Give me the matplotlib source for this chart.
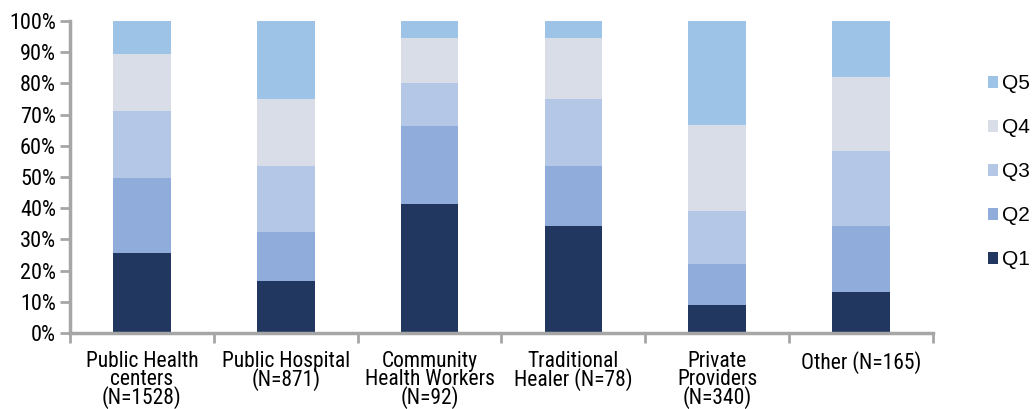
import matplotlib
matplotlib.use("Agg")
import matplotlib.pyplot as plt
import numpy as np
from matplotlib.ticker import FixedLocator, PercentFormatter

categories = [
    "Public Health\ncenters\n(N=1528)",
    "Public Hospital\n(N=871)",
    "Community\nHealth Workers\n(N=92)",
    "Traditional\nHealer (N=78)",
    "Private\nProviders\n(N=340)",
    "Other (N=165)",
]
quintiles = ["Q1", "Q2", "Q3", "Q4", "Q5"]
q1 = [25.6, 16.7, 41.3, 34.3, 9.0, 13.1]
q2 = [24.1, 15.7, 25.0, 19.2, 13.1, 21.2]
q3 = [21.5, 21.1, 13.8, 21.5, 17.0, 24.0]
q4 = [18.2, 21.5, 14.5, 19.6, 27.6, 23.8]
q5 = [10.6, 25.0, 5.4, 5.4, 33.3, 17.9]
colors = ["#22375f", "#8facda", "#b4c7e7", "#d9dde7", "#9dc3e6"]

plt.rcParams["font.family"] = ["Roboto Condensed", "DejaVu Sans"]

fig = plt.figure(figsize=(10.32, 4.09), dpi=100)
ax = fig.add_axes([70 / 1032, 1 - 333 / 409, (933 - 70) / 1032, (333 - 21) / 409])

x = np.arange(len(categories))
bottom = np.zeros(len(categories))
handles = []
for name, vals, col in zip(quintiles, [q1, q2, q3, q4, q5], colors):
    vals = np.array(vals)
    h = ax.bar(x, vals, width=0.4, bottom=bottom, color=col, label=name, linewidth=0)
    handles.append(h)
    bottom += vals

ax.set_xlim(-0.5, len(categories) - 0.5)
ax.set_ylim(0, 100)
ax.yaxis.set_major_locator(FixedLocator(np.arange(0, 101, 10)))
ax.yaxis.set_major_formatter(PercentFormatter(decimals=0))

ax.set_xticks(x)
ax.set_xticklabels(categories, fontsize=15.5, linespacing=0.8, va="top")
ax.xaxis.set_minor_locator(FixedLocator(np.arange(-0.5, len(categories), 1.0)))
ax.tick_params(axis="x", which="major", length=0, pad=13)
ax.tick_params(axis="x", which="minor", length=7, width=2, color="#a6a6a6", direction="out")
ax.tick_params(axis="y", length=7, width=2, color="#a6a6a6", labelsize=16, pad=3)

for side in ["top", "right"]:
    ax.spines[side].set_visible(False)
for side in ["left", "bottom"]:
    ax.spines[side].set_color("#a6a6a6")
    ax.spines[side].set_linewidth(2.5)

leg = fig.legend(handles[::-1], quintiles[::-1], loc="upper left",
                 bbox_to_anchor=(988 / 1032, 1 - 74 / 409), frameon=False,
                 handlelength=0.5, handleheight=0.5, handletextpad=0.15,
                 labelspacing=1.2, borderaxespad=0, borderpad=0,
                 prop={"family": ["Liberation Sans", "DejaVu Sans"], "size": 15})

fig.savefig("out.png", dpi=100)
